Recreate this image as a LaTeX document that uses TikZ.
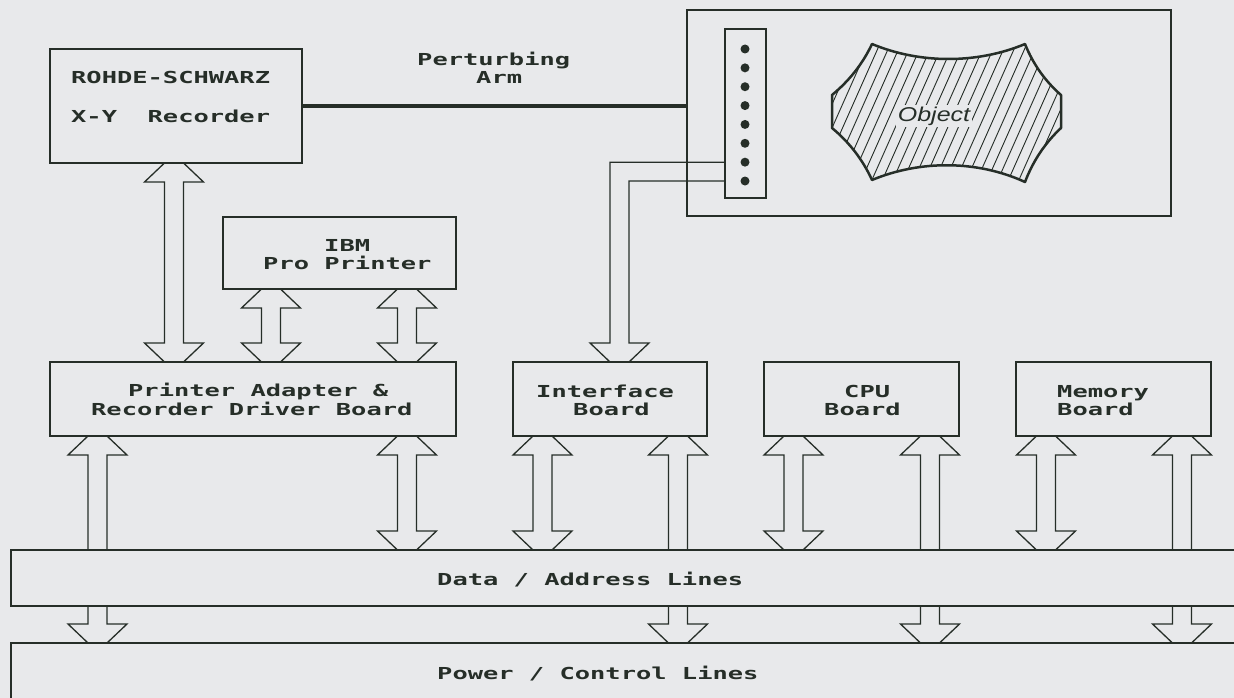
\documentclass[tikz,border=0pt]{standalone}
\usepackage{fontspec}
\usetikzlibrary{calc}
\newfontfamily\plotfont{DejaVu Sans Mono}[FakeStretch=1.54]
\newfontfamily\objfont{Liberation Sans}[FakeStretch=1.25]
\definecolor{bgc}{RGB}{232,233,235}
\definecolor{ink}{RGB}{38,46,40}
% block bus arrows: #1 = x centre, #2 = upper anchor, #3 = lower anchor
\newcommand\busB[3]{%
 \draw[bus] let \p1=(#2), \p2=(#3) in
  ({#1pt-9.5pt},\y1) -- ({#1pt-29.5pt},{\y1-19pt}) -- ({#1pt-9.5pt},{\y1-19pt}) -- ({#1pt-9.5pt},{\y2+19pt}) -- ({#1pt-29.5pt},{\y2+19pt}) -- ({#1pt-9.5pt},\y2)
  ({#1pt+9.5pt},\y1) -- ({#1pt+29.5pt},{\y1-19pt}) -- ({#1pt+9.5pt},{\y1-19pt}) -- ({#1pt+9.5pt},{\y2+19pt}) -- ({#1pt+29.5pt},{\y2+19pt}) -- ({#1pt+9.5pt},\y2);}
\newcommand\busU[3]{%
 \draw[bus] let \p1=(#2), \p2=(#3) in
  ({#1pt-9.5pt},\y1) -- ({#1pt-29.5pt},{\y1-19pt}) -- ({#1pt-9.5pt},{\y1-19pt}) -- ({#1pt-9.5pt},\y2)
  ({#1pt+9.5pt},\y1) -- ({#1pt+29.5pt},{\y1-19pt}) -- ({#1pt+9.5pt},{\y1-19pt}) -- ({#1pt+9.5pt},\y2);}
\newcommand\busD[3]{%
 \draw[bus] let \p1=(#2), \p2=(#3) in
  ({#1pt-9.5pt},\y1) -- ({#1pt-9.5pt},{\y2+19pt}) -- ({#1pt-29.5pt},{\y2+19pt}) -- ({#1pt-9.5pt},\y2)
  ({#1pt+9.5pt},\y1) -- ({#1pt+9.5pt},{\y2+19pt}) -- ({#1pt+29.5pt},{\y2+19pt}) -- ({#1pt+9.5pt},\y2);}
\def\objpath{(872,44) .. controls (920,64) and (977,64) .. (1025,44)
  .. controls (1033,64) and (1045,81) .. (1061,95) -- (1061,128)
  .. controls (1045,143) and (1033,161) .. (1025,182)
  .. controls (977,160) and (920,160) .. (872,180)
  .. controls (862.7,159.7) and (849.3,142.3) .. (832,128) -- (832,95)
  .. controls (849,81) and (862.6,64) .. (872,44) -- cycle}
\begin{document}
\begin{tikzpicture}[x=1pt,y=-1pt,
  box/.style={draw=ink, line width=1.5pt, inner sep=0pt, outer sep=0pt, anchor=north west},
  txt/.style={text=ink, inner sep=0pt, anchor=base west, font=\plotfont\bfseries\fontsize{16.5}{18}\selectfont},
  bus/.style={draw=ink, line width=1.3pt, line join=miter},
  arm/.style={draw=ink, line width=4pt},
  dot/.style={circle, fill=ink, inner sep=0pt, minimum size=9pt},
  hatch/.style={draw=ink, line width=0.9pt},
  objline/.style={draw=ink, line width=2.5pt, line join=round}]
\useasboundingbox (0,0) rectangle (1234,698);
\fill[bgc] (0,0) rectangle (1234,698);

% boxes
\node[box, minimum width=252pt, minimum height=114pt] (rohde) at (50,49) {};
\node[box, minimum width=484pt, minimum height=206pt] (encl) at (687,10) {};
\node[box, minimum width=41pt, minimum height=169pt] (strip) at (725,29) {};
\node[box, minimum width=233pt, minimum height=72pt] (ibm) at (223,217) {};
\node[box, minimum width=406pt, minimum height=74pt] (printer) at (50,362) {};
\node[box, minimum width=194pt, minimum height=74pt] (iface) at (513,362) {};
\node[box, minimum width=195pt, minimum height=74pt] (cpu) at (764,362) {};
\node[box, minimum width=195pt, minimum height=74pt] (mem) at (1016,362) {};
\node[box, minimum width=1250pt, minimum height=56pt] (data) at (11,550) {};
\node[box, minimum width=1250pt, minimum height=100pt] (power) at (11,643) {};

% connector pins
\foreach \i in {1,...,8} \node[dot] (d\i) at (745,{49+(\i-1)*18.86}) {};

% object
\begin{scope}
  \clip \objpath;
  \foreach \i in {0,...,32} \draw[hatch] ({758+\i*10.5},200) -- ++(80,-180);
\end{scope}
\draw[objline] \objpath;
\node[font=\objfont\itshape\fontsize{20}{22}\selectfont, text=ink, fill=bgc, inner sep=1.5pt] (obj) at (934,116) {Object};

% perturbing arm
\draw[arm] (rohde.east) -- (rohde.east -| encl.west);

% wires from connector to interface board
\draw[bus] (strip.west |- d7) -- (610,0 |- d7) -- (610,343) -- (590,343) -- (iface.north -| 610,0);
\draw[bus] (strip.west |- d8) -- (629,0 |- d8) -- (629,343) -- (649,343) -- (iface.north -| 629,0);

% bus arrows
\busB{174}{rohde.south}{printer.north}
\busB{271}{ibm.south}{printer.north}
\busB{407}{ibm.south}{printer.north}
\busU{97.5}{printer.south}{data.north}
\busB{407}{printer.south}{data.north}
\busB{542.5}{iface.south}{data.north}
\busU{678}{iface.south}{data.north}
\busB{793.5}{cpu.south}{data.north}
\busU{930}{cpu.south}{data.north}
\busB{1046}{mem.south}{data.north}
\busU{1182}{mem.south}{data.north}
\busD{97.5}{data.south}{power.north}
\busD{678}{data.south}{power.north}
\busD{930}{data.south}{power.north}
\busD{1182}{data.south}{power.north}

% texts
\node[txt] (rs1) at (71,84) {ROHDE-SCHWARZ};
\node[txt] (rs2) at (71,123) {X-Y\ \ Recorder};
\node[txt] (pa1) at (417,66) {Perturbing};
\node[txt] (pa2) at (476,84) {Arm};
\node[txt] (ib1) at (324,251) {IBM};
\node[txt] (ib2) at (263,269) {Pro Printer};
\node[txt] (pr1) at (128,396) {Printer Adapter \&};
\node[txt] (pr2) at (91,415) {Recorder Driver Board};
\node[txt] (if1) at (536,397) {Interface};
\node[txt] (if2) at (573,415) {Board};
\node[txt] (cp1) at (844,397) {CPU};
\node[txt] (cp2) at (824,415) {Board};
\node[txt] (me1) at (1057,397) {Memory};
\node[txt] (me2) at (1057,415) {Board};
\node[txt] (da) at (437,585) {Data / Address Lines};
\node[txt] (po) at (437,679) {Power / Control Lines};
\end{tikzpicture}
\end{document}
